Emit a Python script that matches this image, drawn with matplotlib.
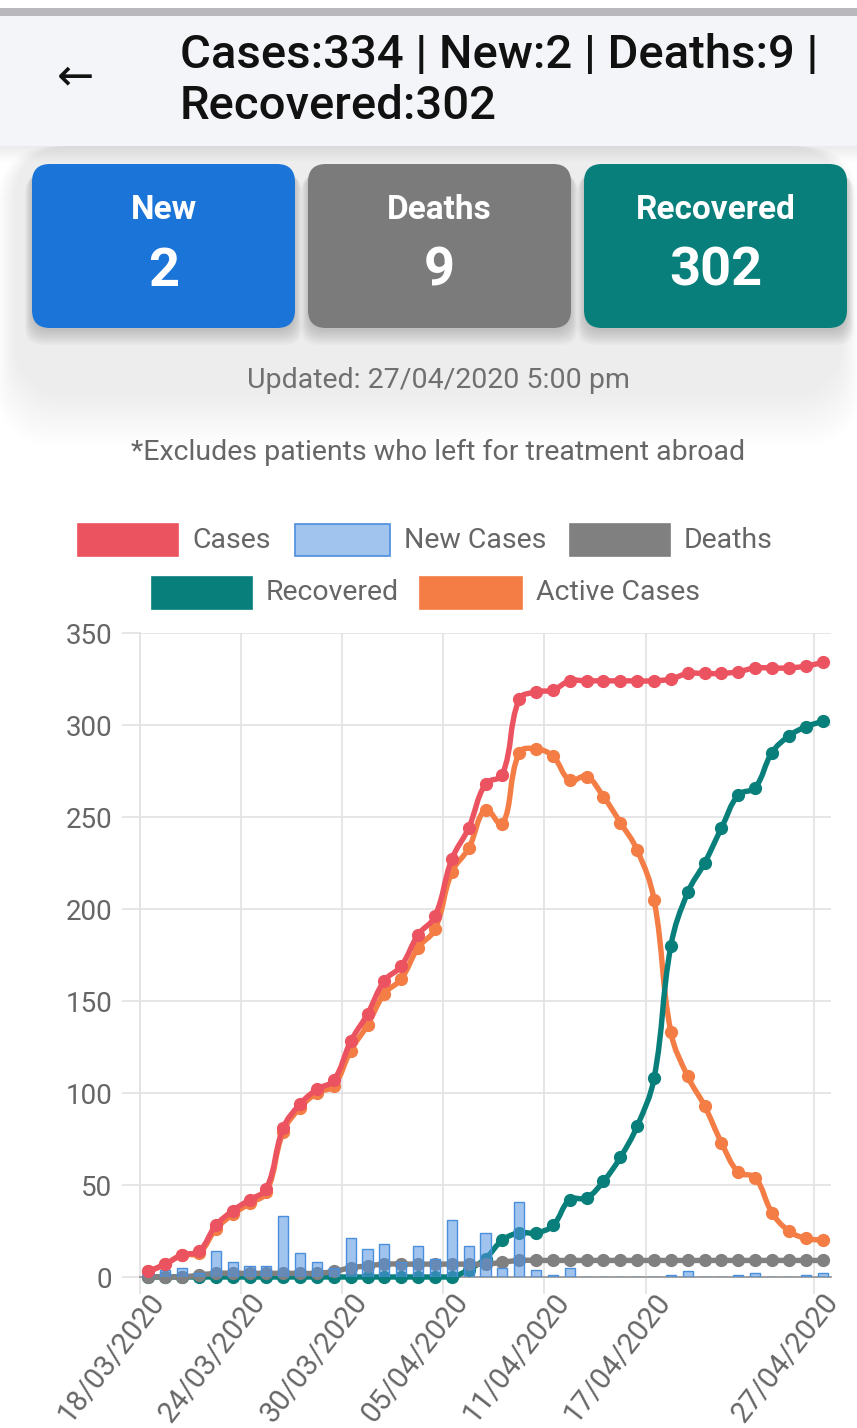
import matplotlib.pyplot as plt
import numpy as np
from matplotlib.patches import FancyBboxPatch, PathPatch, Rectangle
from matplotlib.path import Path

plt.rcParams['font.family'] = ['Roboto', 'DejaVu Sans']

DATES = [
    "18/03/2020", "19/03/2020", "20/03/2020", "21/03/2020", "22/03/2020", "23/03/2020",
    "24/03/2020", "25/03/2020", "26/03/2020", "27/03/2020", "28/03/2020", "29/03/2020",
    "30/03/2020", "31/03/2020", "01/04/2020", "02/04/2020", "03/04/2020", "04/04/2020",
    "05/04/2020", "06/04/2020", "07/04/2020", "08/04/2020", "09/04/2020", "10/04/2020",
    "11/04/2020", "12/04/2020", "13/04/2020", "14/04/2020", "15/04/2020", "16/04/2020",
    "17/04/2020", "18/04/2020", "19/04/2020", "20/04/2020", "21/04/2020", "22/04/2020",
    "23/04/2020", "24/04/2020", "25/04/2020", "26/04/2020", "27/04/2020",
]
SHOWN_TICKS = ["18/03/2020", "24/03/2020", "30/03/2020", "05/04/2020",
               "11/04/2020", "17/04/2020", "27/04/2020"]

CASES = [3, 7, 12, 14, 28, 36, 42, 48, 81, 94, 102, 107, 128, 143, 161, 169, 186, 196,
         227, 244, 268, 273, 314, 318, 319, 324, 324, 324, 324, 324, 324, 325, 328, 328,
         328, 329, 331, 331, 331, 332, 334]
NEW_CASES = [3, 4, 5, 2, 14, 8, 6, 6, 33, 13, 8, 5, 21, 15, 18, 8, 17, 10, 31, 17, 24, 5,
             41, 4, 1, 5, 0, 0, 0, 0, 0, 1, 3, 0, 0, 1, 2, 0, 0, 1, 2]
DEATHS = [0, 0, 0, 1, 2, 2, 2, 2, 2, 2, 2, 3, 5, 6, 7, 7, 7, 7, 7, 7, 7, 8, 9, 9, 9, 9,
          9, 9, 9, 9, 9, 9, 9, 9, 9, 9, 9, 9, 9, 9, 9]
RECOVERED = [0, 0, 0, 0, 0, 0, 0, 0, 0, 0, 0, 0, 0, 0, 0, 0, 0, 0, 0, 4, 10, 20, 24, 24,
             28, 42, 43, 52, 65, 82, 108, 180, 209, 225, 244, 262, 266, 285, 294, 299, 302]
ACTIVE = [3, 7, 12, 13, 26, 34, 40, 46, 79, 92, 100, 104, 123, 137, 154, 162, 179, 189,
          220, 233, 254, 246, 285, 287, 283, 270, 272, 261, 247, 232, 205, 133, 109, 93,
          73, 57, 54, 35, 25, 21, 20]

RED = '#ec5360'
BLUE_FILL = (0.33, 0.58, 0.88, 0.55)
BLUE_EDGE = '#4a8fdc'
GREY = '#808080'
TEAL = '#087f7a'
ORANGE = '#f47d45'
TEXT_GREY = '#666666'

W, H = 857, 1428


def spline_path(xs, ys, tension=0.4, sx=16.85, sy=1.84):
    # same control points as the web chart's default line tension
    n = len(xs)
    cp_in, cp_out = [], []
    for i in range(n):
        a, b = max(i - 1, 0), min(i + 1, n - 1)
        d01 = np.hypot((xs[i] - xs[a]) * sx, (ys[i] - ys[a]) * sy)
        d12 = np.hypot((xs[b] - xs[i]) * sx, (ys[b] - ys[i]) * sy)
        tot = d01 + d12
        fa = tension * (d01 / tot if tot else 0)
        fb = tension * (d12 / tot if tot else 0)
        dx, dy = xs[b] - xs[a], ys[b] - ys[a]
        cp_in.append((xs[i] - fa * dx, np.clip(ys[i] - fa * dy, 0, 350)))
        cp_out.append((xs[i] + fb * dx, np.clip(ys[i] + fb * dy, 0, 350)))
    verts = [(xs[0], ys[0])]
    codes = [Path.MOVETO]
    for i in range(1, n):
        verts += [cp_out[i - 1], cp_in[i], (xs[i], ys[i])]
        codes += [Path.CURVE4] * 3
    return Path(verts, codes)


fig = plt.figure(figsize=(W / 100, H / 100), dpi=100)
fig.patch.set_facecolor('white')

# page decoration in pixel coordinates
bg = fig.add_axes([0, 0, 1, 1])
bg.set_xlim(0, W)
bg.set_ylim(H, 0)
bg.axis('off')

# soft shadow around the card area
for k in range(18):
    bg.add_patch(FancyBboxPatch((14 - k, 146), W - 28 + 2 * k, 250 + 3 * k,
                                boxstyle="round,pad=0,rounding_size=60",
                                fc='#000000', ec='none', alpha=0.004))
bg.add_patch(Rectangle((0, 0), W, 8, fc='white', ec='none'))
bg.add_patch(Rectangle((0, 8), W, 8, fc='#b9b9bd', ec='none'))
bg.add_patch(Rectangle((0, 16), W, 130, fc='#f4f5f9', ec='none'))
for k in range(16):
    bg.add_patch(Rectangle((0, 146 + k), W, 1.2, fc='#000000', ec='none',
                           alpha=0.08 * (1 - k / 16)))

bg.text(75, 77, '\u2190', fontsize=32, family='DejaVu Sans', ha='center', va='center',
        color='#111111')
bg.text(180, 55, 'Cases:334 | New:2 | Deaths:9 |', fontsize=34, weight='medium',
        ha='left', va='center', color='#111111')
bg.text(180, 106, 'Recovered:302', fontsize=34, weight='medium',
        ha='left', va='center', color='#111111')

cards = [(32, '#1b74d8', 'New', '2'), (308, '#7b7b7b', 'Deaths', '9'),
         (584, TEAL, 'Recovered', '302')]
for x0, col, lab, val in cards:
    for k in range(8):
        bg.add_patch(FancyBboxPatch((x0 - k, 168 + k), 263 + 2 * k, 163 + k,
                                    boxstyle="round,pad=0,rounding_size=18",
                                    fc='#000000', ec='none', alpha=0.022))
    bg.add_patch(FancyBboxPatch((x0, 164), 263, 164,
                                boxstyle="round,pad=0,rounding_size=18",
                                fc=col, ec='none'))
    bg.text(x0 + 131.5, 210, lab, fontsize=24, weight='bold', color='white',
            ha='center', va='center')
    bg.text(x0 + 131.5, 271, val, fontsize=39, weight='bold', color='white',
            ha='center', va='center')

bg.text(438, 380, 'Updated: 27/04/2020 5:00 pm', fontsize=20.5, color='#707070',
        ha='center', va='center')
bg.text(438, 452, '*Excludes patients who left for treatment abroad', fontsize=20.5,
        color=TEXT_GREY, ha='center', va='center')

# legend
legend_items = [
    (78, 540, 100, RED, RED, 'Cases'),
    (295, 540, 95, BLUE_FILL, BLUE_EDGE, 'New Cases'),
    (570, 540, 100, GREY, GREY, 'Deaths'),
    (152, 593, 100, TEAL, TEAL, 'Recovered'),
    (420, 593, 102, ORANGE, ORANGE, 'Active Cases'),
]
for lx, ly, lw, fc, ec, lab in legend_items:
    bg.add_patch(Rectangle((lx, ly - 16), lw, 32, fc=fc, ec=ec, lw=1.2))
    bg.text(lx + lw + 14, ly, lab, fontsize=20.5, color=TEXT_GREY, ha='left', va='center')

# chart
ax = fig.add_axes([140 / W, (H - 1277) / H, (831 - 140) / W, (1277 - 633) / H])
ax.set_facecolor('none')
x = np.arange(len(DATES))

ax.bar(x, NEW_CASES, width=0.6, color=BLUE_FILL, edgecolor=BLUE_EDGE, linewidth=1,
       zorder=5)

series = [(ACTIVE, ORANGE, 2), (RECOVERED, TEAL, 3), (DEATHS, GREY, 4), (CASES, RED, 6)]
for vals, col, z in series:
    ax.add_patch(PathPatch(spline_path(x, vals), fill=False, ec=col, lw=3.9,
                           capstyle='round', joinstyle='round', zorder=z, clip_on=False))
    ax.plot(x, vals, 'o', ms=8.5, color=col, zorder=z + 0.1, clip_on=False)

ax.set_xlim(-0.5, len(DATES) - 0.5)
ax.set_ylim(0, 350)
ax.set_yticks(range(0, 351, 50))
ax.tick_params(axis='y', length=13, width=1.2, color='#e2e2e2', pad=7,
               labelsize=20, labelcolor=TEXT_GREY)

shown = [DATES.index(d) for d in SHOWN_TICKS]
ax.set_xticks(shown)
ax.set_xticklabels(SHOWN_TICKS, rotation=52, ha='right', va='top',
                   rotation_mode='anchor', fontsize=21, color=TEXT_GREY)
ax.tick_params(axis='x', which='major', length=0, pad=8)
ax.set_xticks([i - 0.5 for i in shown], minor=True)
ax.tick_params(axis='x', which='minor', length=12, width=1.2, color='#e2e2e2')

ax.grid(axis='y', color='#e2e2e2', lw=1.2, zorder=0)
for i in shown:
    ax.axvline(i - 0.5, color='#e2e2e2', lw=1.2, zorder=0)
for side in ['top', 'right']:
    ax.spines[side].set_visible(False)
ax.spines['left'].set_color('#e2e2e2')
ax.spines['left'].set_linewidth(1.2)
ax.spines['bottom'].set_color('#9a9a9a')
ax.spines['bottom'].set_linewidth(1.3)
ax.set_axisbelow(True)

fig.savefig('out.png', dpi=100, facecolor='white')
